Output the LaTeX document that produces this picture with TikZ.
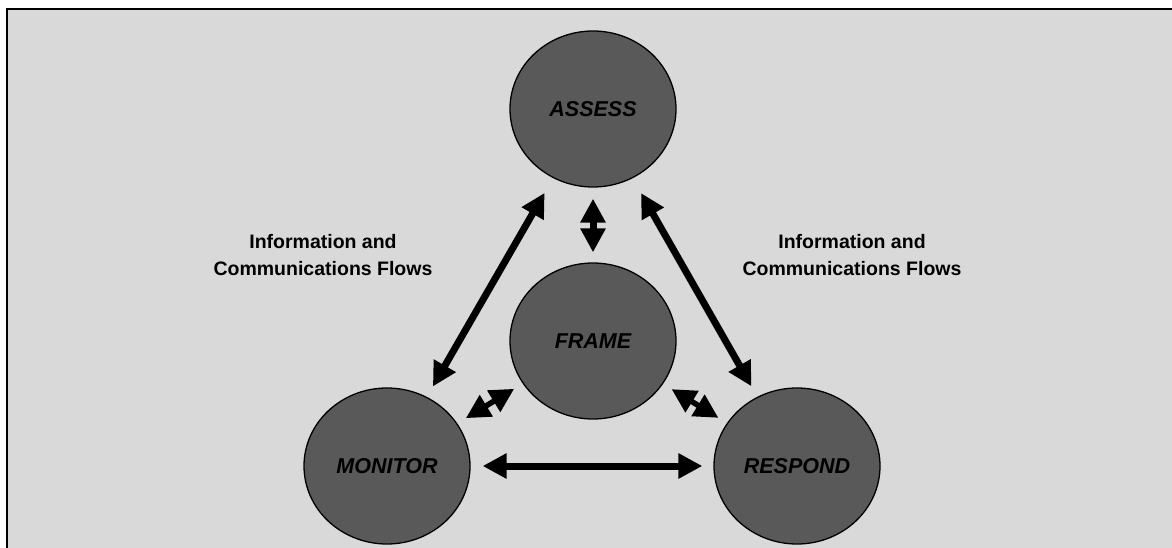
\documentclass[tikz,border=0pt]{standalone}
\usepackage{fontspec}
\setmainfont{Liberation Sans}
\usetikzlibrary{arrows.meta,shapes.geometric}
\definecolor{panelgray}{RGB}{217,217,217}
\definecolor{stagegray}{RGB}{89,89,89}

\begin{document}
\begin{tikzpicture}[
  x=1pt,y=-1pt,
  stage/.style={ellipse,draw=black,line width=1.3pt,fill=stagegray,
    minimum width=166pt,minimum height=156pt,inner sep=0pt,
    font=\fontsize{21.5}{24}\selectfont\bfseries\itshape},
  flow/.style={{Triangle[length=24pt,width=24pt]}-{Triangle[length=24pt,width=24pt]},
    line width=7pt},
  note/.style={align=center,font=\fontsize{19.5}{27}\selectfont\bfseries}
  ]
\useasboundingbox (0,0) rectangle (1172,548);
\fill[panelgray] (7,9.5) rectangle (1172,548);
\draw[line width=2pt] (7,548) -- (7,9.5) -- (1172,9.5);

\node[stage] (assess) at (593,109) {ASSESS};
\node[stage] (frame) at (593,341) {FRAME};
\node[stage] (monitor) at (387,466) {MONITOR};
\node[stage] (respond) at (797,466) {RESPOND};

\node[note] (leftnote) at (323,255) {Information and\\Communications Flows};
\node[note] (rightnote) at (852,255) {Information and\\Communications Flows};

\draw[flow,shorten <=12pt,shorten >=17pt] (monitor) -- (assess);
\draw[flow,shorten <=12pt,shorten >=17pt] (respond) -- (assess);
\draw[flow,shorten <=11pt,shorten >=10pt] (assess) -- (frame);
\draw[flow,shorten <=12pt,shorten >=11pt] (monitor) -- (respond);
\draw[flow,line width=5.5pt,shorten <=10pt,shorten >=10pt] (monitor) -- (frame);
\draw[flow,line width=5.5pt,shorten <=10pt,shorten >=10pt] (frame) -- (respond);
\end{tikzpicture}
\end{document}
